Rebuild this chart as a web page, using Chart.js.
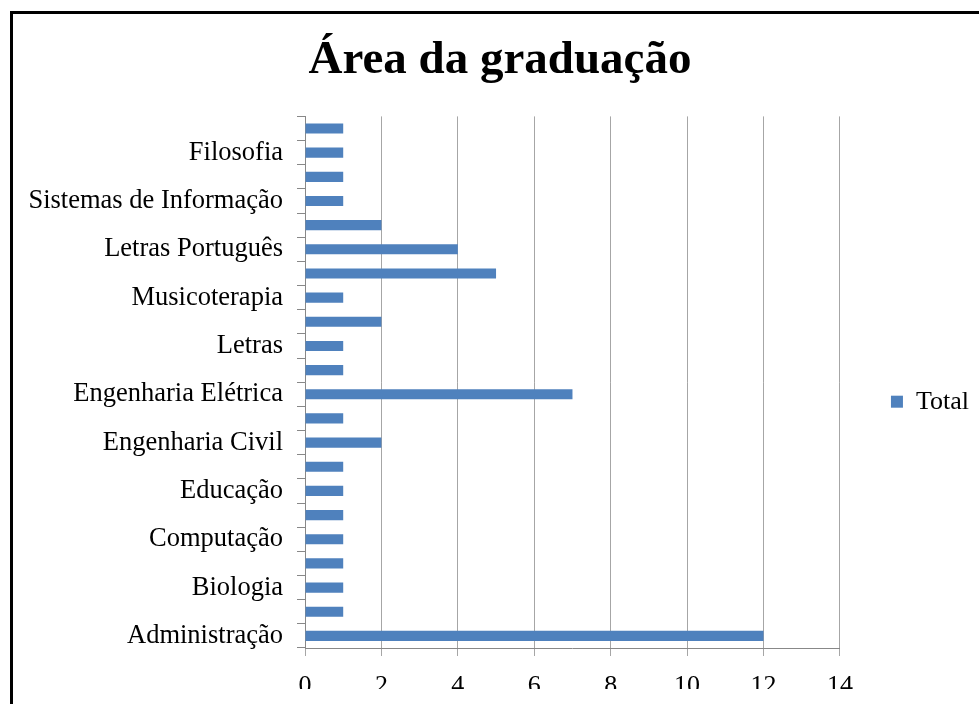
<!DOCTYPE html>
<html>
<head>
<meta charset="utf-8">
<script src="https://cdn.jsdelivr.net/npm/chart.js@4/dist/chart.umd.min.js"></script>
<style>
  html, body { margin: 0; padding: 0; overflow: hidden; background: #fff; width: 979px; height: 704px; }
  #frame { position: absolute; left: 10px; top: 11px; width: 1200px; height: 1200px;
    border-left: 3px solid #000; border-top: 3px solid #000; }
  #chart { position: absolute; left: 0; top: 0; }
</style>
</head>
<body>
<div id="frame"></div>
<canvas id="chart" width="979" height="689"></canvas>
<script>
// categories listed bottom to top, as in the original sheet
var cursos = ["Administração", "", "Biologia", "", "Computação", "", "Educação", "",
  "Engenharia Civil", "", "Engenharia Elétrica", "", "Letras", "", "Musicoterapia", "",
  "Letras Português", "", "Sistemas de Informação", "", "Filosofia", ""];
var total = [12, 1, 1, 1, 1, 1, 1, 1, 2, 1, 7, 1, 1, 2, 1, 5, 4, 2, 1, 1, 1, 1];
var xTicks = [0, 2, 4, 6, 8, 10, 12, 14];

var serif = "'Liberation Serif', 'Times New Roman', serif";

new Chart(document.getElementById("chart"), {
  type: 'bar',
  data: {
    labels: cursos,
    datasets: [{
      label: "Total",
      data: total,
      backgroundColor: "#4f81bd",
      borderWidth: 0,
      categoryPercentage: 1,
      barPercentage: 0.42
    }]
  },
  options: {
    indexAxis: 'y',
    responsive: false,
    animation: false,
    layout: { padding: { left: 21, right: 0, top: 0, bottom: 0 } },
    plugins: {
      tooltip: { enabled: false },
      legend: {
        position: 'right',
        // empty title only pushes the single entry down to mid height
        title: { display: true, text: '', padding: { top: 100, bottom: 0 } },
        labels: {
          color: '#000',
          boxWidth: 12,
          boxHeight: 12,
          padding: 51,
          font: { family: serif, size: 26 }
        }
      },
      title: {
        display: true,
        text: 'Área da graduação',
        color: '#000',
        font: { family: serif, size: 47, weight: 'bold', lineHeight: 1.2 },
        padding: { top: 33, bottom: 27 }
      }
    },
    scales: {
      y: {
        reverse: true,
        afterFit: function (scale) { scale.width = 284; },
        grid: { drawOnChartArea: false, offset: true, tickLength: 8, color: '#888' },
        border: { color: '#888', width: 1 },
        ticks: { autoSkip: false, color: '#000', padding: 14, font: { family: serif, size: 26.5 } }
      },
      x: {
        min: 0,
        max: 14,
        afterFit: function (scale) { scale.height = 41; },
        afterBuildTicks: function (scale) {
          scale.ticks = xTicks.map(function (v) { return { value: v }; });
        },
        grid: { color: '#a6a6a6', tickLength: 8 },
        border: { color: '#888', width: 1 },
        ticks: { color: '#000', padding: 15, font: { family: serif, size: 26 } }
      }
    }
  }
});
</script>
</body>
</html>
